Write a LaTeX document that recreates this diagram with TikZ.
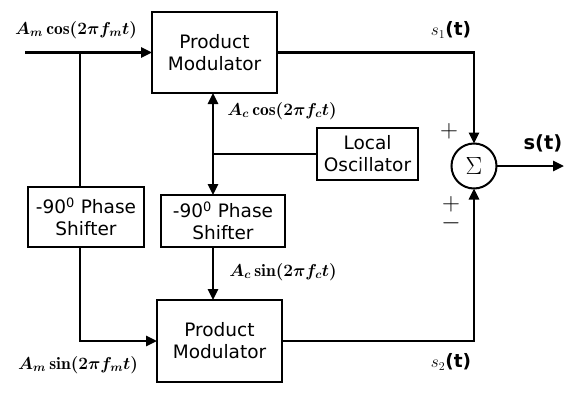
\documentclass[tikz,border=0pt]{standalone}
\usepackage{fontspec}
\setsansfont{DejaVu Sans}
\usetikzlibrary{arrows.meta}
\begin{document}
\begin{tikzpicture}[x=1pt,y=-1pt,
  every node/.style={inner sep=0pt,outer sep=0pt},
  blk/.style={draw,line width=2.6pt,rectangle,align=center,font=\sffamily\fontsize{18.5}{22}\selectfont},
  wire/.style={line width=2.6pt},
  arr/.style={line width=2.6pt,-{Triangle[length=11pt,width=10pt]}},
  lbl/.style={font=\fontsize{17.5}{20}\selectfont\boldmath},
  sgn/.style={font=\fontsize{25}{25}\selectfont}]
\useasboundingbox (0,0) rectangle (582,402);
\node[blk,minimum width=125pt,minimum height=81pt] (pm1) at (214.5,52.5) {Product\\Modulator};
\node[blk,minimum width=125pt,minimum height=82pt] (pm2) at (219.5,341) {Product\\Modulator};
\node[blk,minimum width=116pt,minimum height=60pt] (ps1) at (86,217) {-90\textsuperscript{0} Phase\\Shifter};
\node[blk,minimum width=124pt,minimum height=52pt] (ps2) at (223,221) {-90\textsuperscript{0} Phase\\Shifter};
\node[blk,minimum width=101pt,minimum height=52pt] (lo) at (367.5,154) {Local\\Oscillator};
\node[draw,circle,line width=2pt,minimum size=45pt,font=\fontsize{26}{26}\selectfont] (sum) at (474,166) {$\Sigma$};
\coordinate (in) at (25,52.5);
\coordinate (b1) at (80,52.5);
\coordinate (j) at (213,154);
\coordinate (out) at (564,166);
\draw[arr] (in) -- (pm1.west);
\draw[wire] (b1) -- (b1 |- ps1.north);
\draw[arr] (ps1.south -| b1) |- (pm2.west);
\draw[wire] (lo.west) -- (j);
\draw[arr] (j) -- (j |- pm1.south);
\draw[arr] (j) -- (j |- ps2.north);
\draw[arr] (ps2.south -| j) -- (pm2.north -| j);
\draw[arr] (pm1.east) -| (sum.north);
\draw[arr] (pm2.east) -| (sum.south);
\draw[arr] (sum.east) -- (out);
\node[lbl] (l1) at (76,30) {$A_m\cos(2\pi f_m t)$};
\node[lbl] (l2) at (282,111) {$A_c\cos(2\pi f_c t)$};
\node[lbl] (l3) at (283,272) {$A_c\sin(2\pi f_c t)$};
\node[lbl] (l4) at (78,365) {$A_m\sin(2\pi f_m t)$};
\node[font=\fontsize{18.5}{21}\selectfont] (s1) at (451,30) {$s_1$\textsf{\bfseries (t)}};
\node[font=\fontsize{18.5}{21}\selectfont] (s2) at (451,362) {$s_2$\textsf{\bfseries (t)}};
\node[font=\sffamily\bfseries\fontsize{19.5}{22}\selectfont] (st) at (543,143) {s(t)};
\node[sgn] (p1) at (449,131) {$+$};
\node[sgn] (p2) at (451,204) {$+$};
\node[sgn] (m2) at (451,223) {$-$};
\end{tikzpicture}
\end{document}
